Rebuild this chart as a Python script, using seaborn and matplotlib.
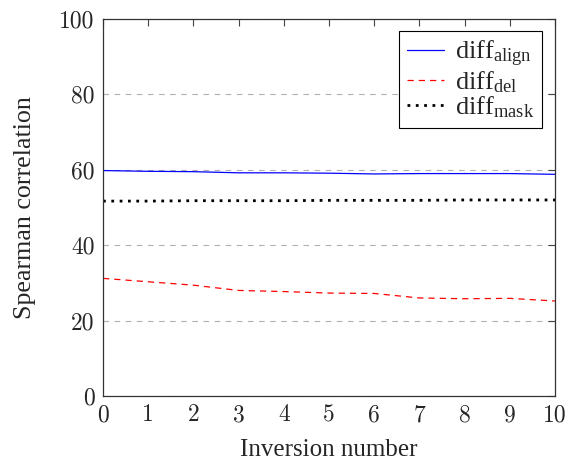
import matplotlib
matplotlib.use("Agg")
import matplotlib.pyplot as plt
import seaborn as sns
import pandas as pd
from matplotlib.ticker import FuncFormatter
from matplotlib.font_manager import FontProperties

inversion = [0, 1, 2, 3, 4, 5, 6, 7, 8, 9, 10]
diff_align = [59.8, 59.6, 59.5, 59.2, 59.2, 59.1, 58.9, 59.0, 59.0, 59.0, 58.8]
diff_del = [31.2, 30.3, 29.4, 28.0, 27.7, 27.3, 27.2, 26.0, 25.8, 25.9, 25.2]
diff_mask = [51.7, 51.7, 51.8, 51.8, 51.8, 51.9, 51.9, 51.9, 52.0, 52.0, 52.0]

labels = [r"diff$_{\mathrm{align}}$", r"diff$_{\mathrm{del}}$", r"diff$_{\mathrm{mask}}$"]

sns.set_style("white")
plt.rcParams["font.family"] = ["Liberation Serif", "DejaVu Serif"]
plt.rcParams["mathtext.fontset"] = "custom"
plt.rcParams["mathtext.rm"] = "Liberation Serif"
plt.rcParams["mathtext.it"] = "Liberation Serif:italic"

fig = plt.figure(figsize=(5.69, 4.62), dpi=100)
ax = fig.add_axes([103/569, 1 - 396/462, (555-103)/569, (396-19)/462])

df = pd.DataFrame({"x": inversion, "align": diff_align, "del": diff_del, "mask": diff_mask})
sns.lineplot(data=df, x="x", y="align", ax=ax, color="blue", lw=0.9, label=labels[0])
sns.lineplot(data=df, x="x", y="del", ax=ax, color="red", lw=0.9, ls=(0, (5, 4)), label=labels[1])
sns.lineplot(data=df, x="x", y="mask", ax=ax, color="black", lw=2.0, ls=(0, (1, 2)), label=labels[2])

ax.set_xlim(0, 10)
ax.set_ylim(0, 100)
ax.set_xticks(range(0, 11))
ax.set_yticks(range(0, 101, 20))
ax.yaxis.grid(True, color="#b0b0b0", ls=(0, (5, 5)), lw=0.8)
ax.set_axisbelow(True)
ax.tick_params(direction="in", top=True, right=True, length=5, width=0.8,
               color="#444444", pad=6)
fmt = FuncFormatter(lambda v, p: f"{int(round(v))}")
ax.xaxis.set_major_formatter(fmt)
ax.yaxis.set_major_formatter(fmt)
cm = FontProperties(fname=matplotlib.get_data_path() + "/fonts/ttf/cmr10.ttf", size=17)
for lab_axis in (ax.xaxis, ax.yaxis):
    for t in lab_axis.get_major_ticks():
        t.label1.set_fontproperties(cm)
for s in ax.spines.values():
    s.set_color("#333333")
    s.set_linewidth(0.9)
ax.set_xlabel("Inversion number", fontsize=18, labelpad=9)
ax.set_ylabel("Spearman correlation", fontsize=18.7, labelpad=17)

leg = ax.legend(loc="upper right", fontsize=19, frameon=True, fancybox=False,
                edgecolor="black", framealpha=1, handlelength=1.4,
                borderpad=0.3, labelspacing=0.0, handletextpad=0.4,
                borderaxespad=0, bbox_to_anchor=(0.971, 0.968))
leg.get_frame().set_linewidth(0.8)

fig.savefig("out.png", dpi=100)
